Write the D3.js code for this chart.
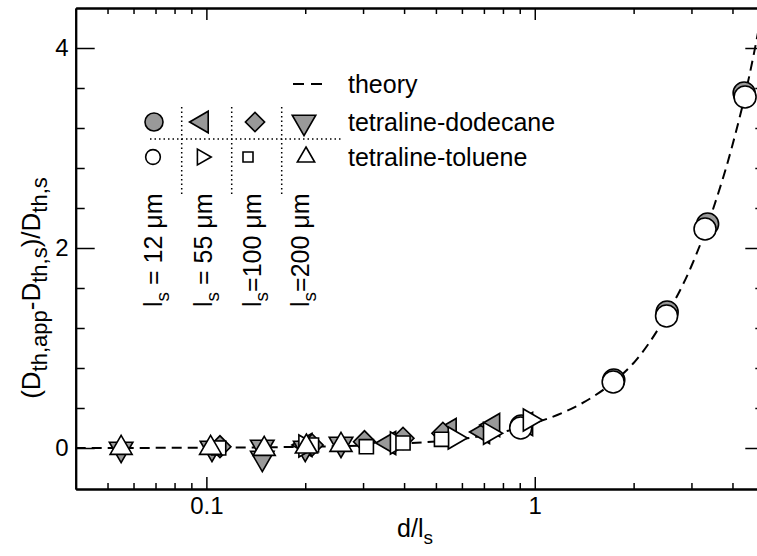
<!DOCTYPE html>
<html>
<head>
<meta charset="utf-8">
<script src="https://cdn.jsdelivr.net/npm/d3@7"></script>
<style>
  body { margin: 0; background: #fff; }
  svg { display: block; font-family: 'Liberation Sans', Arial, sans-serif; }
</style>
</head>
<body>
<div id="chart"></div>
<script>
// theory curve
var theoryX = [0.04, 0.1, 0.2, 0.3, 0.4, 0.5, 0.6, 0.7, 0.8, 0.9, 1.0, 1.25, 1.5, 1.75, 2.0, 2.5, 3.0, 3.5, 4.0, 4.5, 4.75, 5.0];
var theoryY = [0, 0.003, 0.012, 0.025, 0.045, 0.065, 0.09, 0.125, 0.16, 0.205, 0.25, 0.37, 0.51, 0.67, 0.85, 1.31, 1.82, 2.4, 3.03, 3.72, 4.1, 4.5];

// tetraline-dodecane (filled grey)
var dod12X = [0.91, 1.74, 2.53, 3.36, 4.34];
var dod12Y = [0.22, 0.68, 1.36, 2.24, 3.55];
var dod55X = [0.2, 0.36, 0.55, 0.695, 0.746, 0.94];
var dod55Y = [0.03, 0.05, 0.18, 0.16, 0.23, 0.24];
var dod100X = [0.11, 0.21, 0.303, 0.397, 0.525];
var dod100Y = [0.013, 0.03, 0.063, 0.097, 0.147];
var dod200X = [0.055, 0.104, 0.148, 0.148, 0.2, 0.257];
var dod200Y = [-0.01, 0.0, 0.01, -0.1, 0.0, 0.04];

// tetraline-toluene (open)
var tol12X = [0.906, 1.733, 2.52, 3.30, 4.37];
var tol12Y = [0.2, 0.66, 1.32, 2.19, 3.51];
var tol55X = [0.2, 0.38, 0.57, 0.73, 0.965];
var tol55Y = [0.02, 0.05, 0.1, 0.147, 0.28];
var tol100X = [0.109, 0.209, 0.307, 0.397, 0.52];
var tol100Y = [0.0, 0.03, 0.013, 0.05, 0.087];
var tol200X = [0.055, 0.103, 0.150, 0.2016, 0.257];
var tol200Y = [0.0, 0.0, -0.01, 0.013, 0.03];

// ticks
var xMajorTicks = [0.1, 1];
var xMinorTicks = [0.05, 0.06, 0.07, 0.08, 0.09, 0.2, 0.3, 0.4, 0.5, 0.6, 0.7, 0.8, 0.9, 2, 3, 4];
var yMajorTicks = [0, 2, 4];
var yMinorTicks = [0.4, 0.8, 1.2, 1.6, 2.4, 2.8, 3.2, 3.6];
var lsValues = [' = 12 μm', ' = 55 μm', '=100 μm', '=200 μm'];

var grey = '#999999';

var svg = d3.select('#chart')
    .append('svg')
    .attr('width', 757)
    .attr('height', 556);

var xLeft = 75.7, xRight = 764.3, yTop = 8, yBottom = 489;

var x = d3.scaleLog().domain([0.04, 5]).range([xLeft, xRight]);
var y = d3.scaleLinear().domain([-0.41, 4.4]).range([yBottom, yTop]);

// symbols
function symbolPath(shape, size) {
    var type = d3.symbolTriangle;
    if (shape === 'circle') type = d3.symbolCircle;
    if (shape === 'square' || shape === 'diamond') type = d3.symbolSquare;
    return d3.symbol().type(type).size(size)();
}
function symbolRotate(shape) {
    if (shape === 'left') return -90;
    if (shape === 'right') return 90;
    if (shape === 'down') return 180;
    if (shape === 'diamond') return 45;
    return 0;
}
var symbolSize = { circle: 380, left: 230, right: 210, up: 210, down: 240, square: 200, diamond: 240 };

var series = [
    { xs: dod12X, ys: dod12Y, shape: 'circle', fill: grey },
    { xs: dod55X, ys: dod55Y, shape: 'left', fill: grey },
    { xs: dod100X, ys: dod100Y, shape: 'diamond', fill: grey },
    { xs: dod200X, ys: dod200Y, shape: 'down', fill: grey },
    { xs: tol12X, ys: tol12Y, shape: 'circle', fill: '#fff' },
    { xs: tol55X, ys: tol55Y, shape: 'right', fill: '#fff' },
    { xs: tol100X, ys: tol100Y, shape: 'square', fill: '#fff' },
    { xs: tol200X, ys: tol200Y, shape: 'up', fill: '#fff' }
];

svg.append('clipPath').attr('id', 'clip')
    .append('rect')
    .attr('x', xLeft).attr('y', yTop)
    .attr('width', xRight - xLeft).attr('height', yBottom - yTop);

var plot = svg.append('g').attr('clip-path', 'url(#clip)');

// theory line
var theory = theoryX.map(function(d, i) { return [d, theoryY[i]]; });
plot.append('path')
    .datum(theory)
    .attr('fill', 'none')
    .attr('stroke', '#000')
    .attr('stroke-width', 2)
    .attr('stroke-dasharray', '10,6')
    .attr('d', d3.line()
        .x(function(d) { return x(d[0]); })
        .y(function(d) { return y(d[1]); })
        .curve(d3.curveMonotoneX));

// data points
series.forEach(function(s) {
    var pts = s.xs.map(function(d, i) { return [d, s.ys[i]]; });
    plot.append('g')
        .selectAll('path')
        .data(pts)
        .enter()
        .append('path')
        .attr('d', symbolPath(s.shape, symbolSize[s.shape]))
        .attr('transform', function(d) {
            return 'translate(' + x(d[0]) + ',' + y(d[1]) + ') rotate(' + symbolRotate(s.shape) + ')';
        })
        .attr('fill', s.fill)
        .attr('stroke', '#000')
        .attr('stroke-width', 1.6);
});

// axes
function styleAxis(g) {
    g.select('.domain').attr('stroke-width', 2);
    g.selectAll('.tick line').attr('stroke-width', 1.5);
    g.selectAll('.tick text').attr('font-size', '24px').attr('font-family', 'Liberation Sans, Arial, sans-serif').attr('fill', '#000');
}

svg.append('g')
    .attr('transform', 'translate(0,' + yBottom + ')')
    .call(d3.axisBottom(x).tickValues(xMinorTicks).tickSize(-6).tickSizeOuter(0).tickFormat(''))
    .call(styleAxis);
svg.append('g')
    .attr('transform', 'translate(0,' + yBottom + ')')
    .call(d3.axisBottom(x).tickValues(xMajorTicks).tickSize(-12).tickSizeOuter(0).tickPadding(8)
        .tickFormat(function(d) { return d === 1 ? '1' : '0.1'; }))
    .call(styleAxis);
svg.append('g')
    .attr('transform', 'translate(0,' + yTop + ')')
    .call(d3.axisTop(x).tickValues(xMinorTicks).tickSize(-6).tickSizeOuter(0).tickFormat(''))
    .call(styleAxis);
svg.append('g')
    .attr('transform', 'translate(0,' + yTop + ')')
    .call(d3.axisTop(x).tickValues(xMajorTicks).tickSize(-12).tickSizeOuter(0).tickFormat(''))
    .call(styleAxis);

svg.append('g')
    .attr('transform', 'translate(' + xLeft + ',0)')
    .call(d3.axisLeft(y).tickValues(yMinorTicks).tickSize(-9).tickSizeOuter(0).tickFormat(''))
    .call(styleAxis);
svg.append('g')
    .attr('transform', 'translate(' + xLeft + ',0)')
    .call(d3.axisLeft(y).tickValues(yMajorTicks).tickSize(-19).tickSizeOuter(0).tickPadding(7)
        .tickFormat(d3.format('d')))
    .call(styleAxis);
svg.append('g')
    .attr('transform', 'translate(' + xRight + ',0)')
    .call(d3.axisRight(y).tickValues(yMinorTicks).tickSize(-9).tickSizeOuter(0).tickFormat(''))
    .call(styleAxis);
svg.append('g')
    .attr('transform', 'translate(' + xRight + ',0)')
    .call(d3.axisRight(y).tickValues(yMajorTicks).tickSize(-19).tickSizeOuter(0).tickFormat(''))
    .call(styleAxis);

// x axis label
var xl = svg.append('text')
    .attr('x', 415)
    .attr('y', 537)
    .attr('text-anchor', 'middle')
    .attr('font-size', '25px');
xl.append('tspan').text('d/l');
xl.append('tspan').attr('font-size', '19px').attr('dy', 7).text('s');

// y axis label
var yl = svg.append('text')
    .attr('transform', 'translate(40,288) rotate(-90)')
    .attr('text-anchor', 'middle')
    .attr('font-size', '26px');
yl.append('tspan').text('(D');
yl.append('tspan').attr('font-size', '22px').attr('dy', 7).text('th,app');
yl.append('tspan').attr('dy', -7).text('-D');
yl.append('tspan').attr('font-size', '22px').attr('dy', 7).text('th,s');
yl.append('tspan').attr('dy', -7).text(')/D');
yl.append('tspan').attr('font-size', '22px').attr('dy', 7).text('th,s');

// legend
var legend = svg.append('g');
legend.append('line')
    .attr('x1', 293).attr('x2', 327)
    .attr('y1', 84).attr('y2', 84)
    .attr('stroke', '#000').attr('stroke-width', 2)
    .attr('stroke-dasharray', '11,7');
var legendText = [['theory', 84], ['tetraline-dodecane', 122], ['tetraline-toluene', 157]];
legendText.forEach(function(t) {
    legend.append('text')
        .attr('x', 348).attr('y', t[1])
        .attr('dy', '0.36em')
        .attr('font-size', '25px')
        .text(t[0]);
});

var legendSym = [
    { shape: 'circle', cx: 154, cy: 122, size: 255, fill: grey },
    { shape: 'left', cx: 202, cy: 122, size: 200, fill: grey },
    { shape: 'diamond', cx: 255, cy: 122, size: 185, fill: grey },
    { shape: 'down', cx: 304, cy: 122, size: 240, fill: grey },
    { shape: 'circle', cx: 153, cy: 157, size: 170, fill: '#fff' },
    { shape: 'right', cx: 202, cy: 157, size: 110, fill: '#fff' },
    { shape: 'square', cx: 248, cy: 157, size: 100, fill: '#fff' },
    { shape: 'up', cx: 306, cy: 157, size: 130, fill: '#fff' }
];
legend.selectAll('.lsym')
    .data(legendSym)
    .enter()
    .append('path')
    .attr('class', 'lsym')
    .attr('d', function(d) { return symbolPath(d.shape, d.size); })
    .attr('transform', function(d) {
        return 'translate(' + d.cx + ',' + d.cy + ') rotate(' + symbolRotate(d.shape) + ')';
    })
    .attr('fill', function(d) { return d.fill; })
    .attr('stroke', '#000')
    .attr('stroke-width', 1.6);

// dotted separators
legend.append('line')
    .attr('x1', 150).attr('x2', 342)
    .attr('y1', 139).attr('y2', 139)
    .attr('stroke', '#000').attr('stroke-width', 1.5)
    .attr('stroke-dasharray', '1.5,3');
[181.7, 231.7, 281.7].forEach(function(lx) {
    legend.append('line')
        .attr('x1', lx).attr('x2', lx)
        .attr('y1', 107).attr('y2', 197)
        .attr('stroke', '#000').attr('stroke-width', 1.5)
        .attr('stroke-dasharray', '1.5,3');
});

// rotated l_s labels
[153, 203, 252, 300].forEach(function(cx, i) {
    var t = legend.append('text')
        .attr('transform', 'translate(' + cx + ',307) rotate(-90)')
        .attr('dy', '0.36em')
        .attr('font-size', '25px');
    t.append('tspan').text('l');
    t.append('tspan').attr('font-size', '19px').attr('dy', 7).text('s');
    t.append('tspan').attr('dy', -7).text(lsValues[i]);
});
</script>
</body>
</html>
